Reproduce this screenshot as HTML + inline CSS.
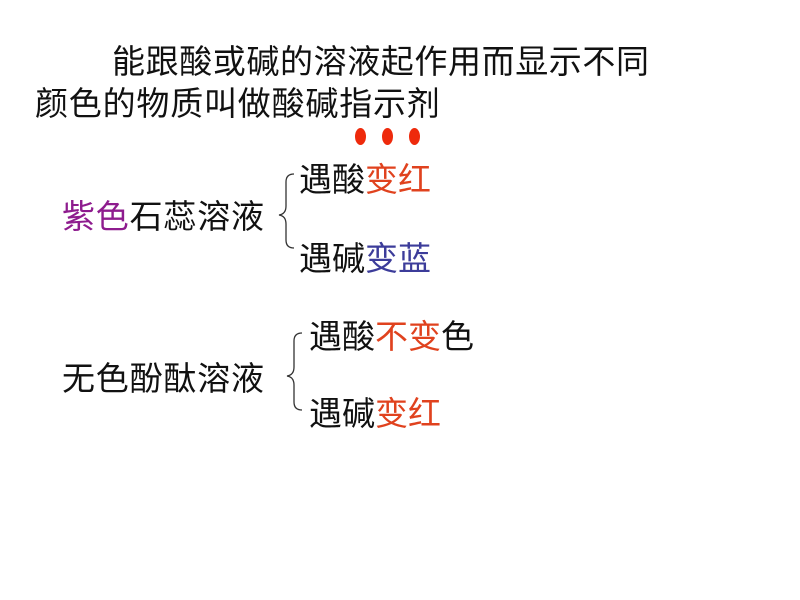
<!DOCTYPE html>
<html><head><meta charset="utf-8"><style>
body{margin:0;width:800px;height:600px;background:#fff;position:relative;overflow:hidden;font-family:"Liberation Sans","Noto Sans CJK SC",sans-serif;color:#111}
.t{position:absolute;white-space:nowrap;line-height:1}
.r{color:#e0421e}.b{color:#3c3c9a}.p{color:#8e1c8e}
.d{position:absolute;width:11px;height:17px;border-radius:50%;background:#ee2a0c}
</style></head><body>
<div class="t" style="left:112px;top:45px;font-size:33px;letter-spacing:0.6px">能跟酸或碱的溶液起作用而显示不同</div>
<div class="t" style="left:35px;top:87px;font-size:33px;letter-spacing:0.8px">颜色的物质叫做酸碱指示剂</div>
<div class="d" style="left:355px;top:128px"></div>
<div class="d" style="left:382px;top:128px"></div>
<div class="d" style="left:409px;top:128px"></div>
<div class="t" style="left:62px;top:200px;font-size:33px;letter-spacing:0.8px"><span class="p">紫色</span>石蕊溶液</div>
<div class="t" style="left:299px;top:163px;font-size:33px">遇酸<span class="r">变红</span></div>
<div class="t" style="left:299px;top:242px;font-size:33px">遇碱<span class="b">变蓝</span></div>
<div class="t" style="left:62px;top:362px;font-size:33px;letter-spacing:0.8px">无色酚酞溶液</div>
<div class="t" style="left:309px;top:320px;font-size:33px">遇酸<span class="r">不变</span>色</div>
<div class="t" style="left:309px;top:397px;font-size:33px">遇碱<span class="r">变红</span></div>
<svg width="800" height="600" style="position:absolute;left:0;top:0">
<path d="M294 174 Q286 174 286 182 L286 206 Q286 214 279 215 Q286 216 286 224 L286 240 Q286 248 294 248" fill="none" stroke="#333" stroke-width="1.3"/>
<path d="M302 333 Q294 333 294 341 L294 367 Q294 375 287 376 Q294 377 294 385 L294 402 Q294 410 302 410" fill="none" stroke="#333" stroke-width="1.3"/>
</svg>
</body></html>
